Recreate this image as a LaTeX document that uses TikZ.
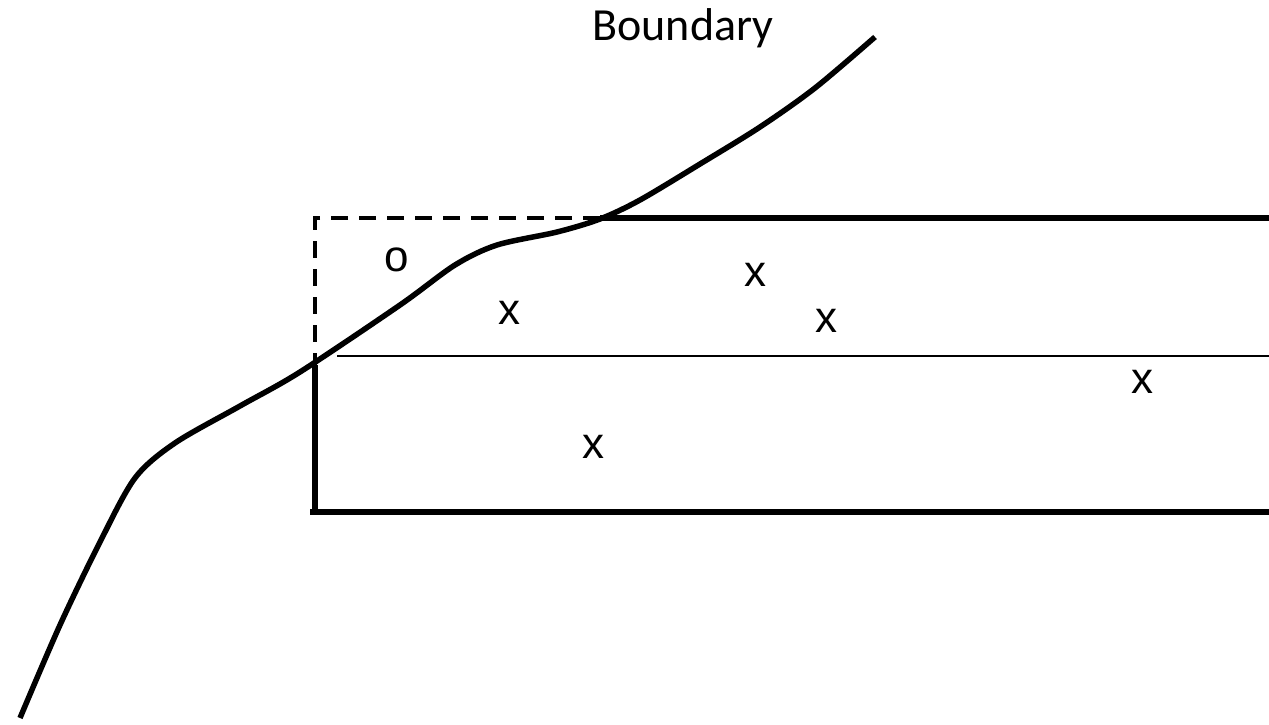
\documentclass[tikz,border=0pt]{standalone}
\usepackage{fontspec}
\setmainfont{Carlito}
\newfontfamily\markfont{Liberation Sans}
\usetikzlibrary{positioning}

\begin{document}
\begin{tikzpicture}[
		x=1pt,y=-1pt,
		b/.style={line width=5.5pt},
		t/.style={line width=1.5pt},
		d/.style={line width=4pt,dash pattern=on 17pt off 11pt},
		lbl/.style={font=\fontsize{46}{46}\selectfont},
		m/.style={font=\markfont\fontsize{44}{44}\selectfont,inner sep=0pt}
		]
		\useasboundingbox (0,0) rectangle (1269,725);
		
		% boundary curve
		\draw [b] plot [smooth,tension=0.5] coordinates {(20,718) (60,625) (100,542) (135,478) (175,443) (240,406) (300,372) (400,305) (455,265) (497,245) (557,232) (600,219) (640,200) (700,164) (760,127) (815,88) (875,37)};
		
		\coordinate (tl) at (315,218);
		\coordinate (tm) at (600,218);
		\coordinate (tr) at (1269,218);
		\coordinate (ml) at (315,365);
		\coordinate (bl) at (315,512);
		\coordinate (bl2) at (310,512);
		\coordinate (br) at (1269,512);
		\coordinate (cl) at (337,356);
		\coordinate (cr) at (1269,356);
		
		\draw [d] (tm) -- (tl) -- (ml);
		\draw [b] (tm) -- (tr);
		\draw [b] (ml) -- (bl);
		\draw [b] (bl2) -- (br);
		\draw [t] (cl) -- (cr);
		
		\node [lbl] (boundary) at (683,28) {Boundary};
		
		\node [m] (o1) at (397,260) {o};
		\node [m] (x1) at (509,313) {x};
		\node [m] (x2) at (755,275) {x};
		\node [m] (x3) at (826,321) {x};
		\node [m] (x4) at (1142,382) {x};
		\node [m] (x5) at (593,447) {x};
		
	\end{tikzpicture}
\end{document}
